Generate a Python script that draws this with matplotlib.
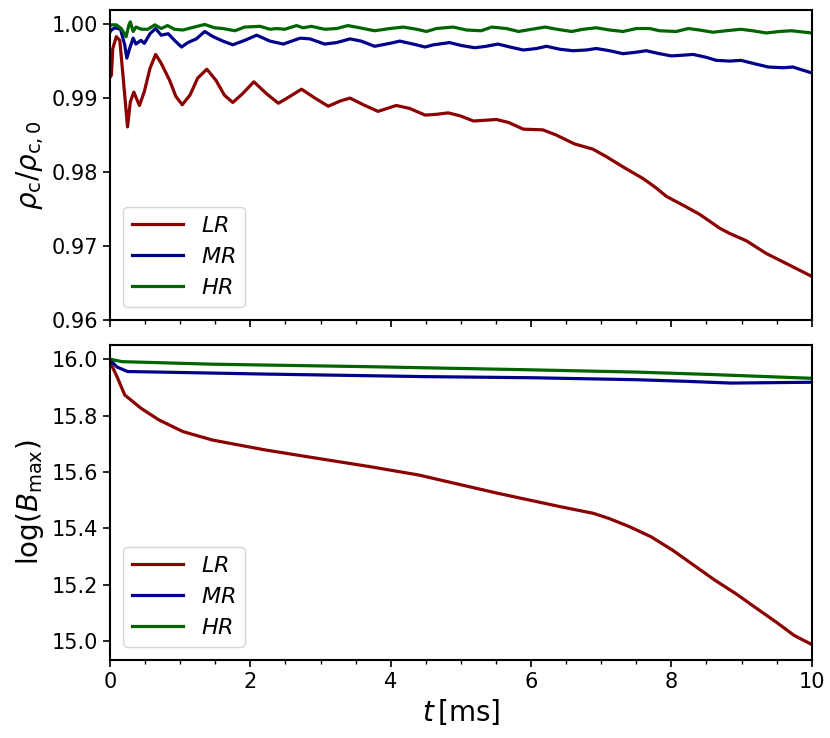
import matplotlib
matplotlib.use('Agg')
import matplotlib.pyplot as plt
from matplotlib.ticker import MultipleLocator

# central density rho_c / rho_c,0
t_rho_lr = [0.0, 0.02, 0.04, 0.09, 0.14, 0.185, 0.25, 0.29, 0.34, 0.42, 0.49, 0.57, 0.65, 0.73,
            0.85, 0.94, 1.03, 1.14, 1.25, 1.38, 1.51, 1.63, 1.75, 1.89, 2.05, 2.23, 2.40, 2.56,
            2.73, 2.92, 3.11, 3.28, 3.42, 3.61, 3.82, 4.08, 4.27, 4.49, 4.65, 4.82, 4.99, 5.18,
            5.51, 5.68, 5.89, 6.17, 6.36, 6.62, 6.88, 7.07, 7.31, 7.60, 7.79, 7.93, 8.17, 8.40,
            8.69, 8.83, 9.07, 9.35, 9.54, 10.0]
rho_lr = [0.9928, 0.9931, 0.9967, 0.9983, 0.9978, 0.9931, 0.9861, 0.9895, 0.9908, 0.9890, 0.9909,
          0.9940, 0.9959, 0.9947, 0.9924, 0.9902, 0.9891, 0.9904, 0.9927, 0.9939, 0.9924, 0.9904,
          0.9894, 0.9906, 0.9922, 0.9906, 0.9893, 0.9902, 0.9912, 0.9900, 0.9889, 0.9896, 0.9900,
          0.9891, 0.9882, 0.9890, 0.9886, 0.9877, 0.9878, 0.9880, 0.9876, 0.9869, 0.9871, 0.9867,
          0.9858, 0.9857, 0.9850, 0.9838, 0.9831, 0.9821, 0.9807, 0.9791, 0.9778, 0.9767, 0.9755,
          0.9743, 0.9724, 0.9717, 0.9707, 0.9690, 0.9681, 0.9659]

t_rho_mr = [0.0, 0.02, 0.07, 0.15, 0.21, 0.24, 0.28, 0.33, 0.37, 0.44, 0.49, 0.57, 0.65, 0.73,
            0.83, 0.92, 1.02, 1.11, 1.23, 1.35, 1.47, 1.61, 1.75, 1.92, 2.09, 2.28, 2.47, 2.71,
            2.85, 3.06, 3.23, 3.42, 3.58, 3.77, 3.99, 4.13, 4.32, 4.49, 4.61, 4.84, 5.01, 5.20,
            5.36, 5.53, 5.70, 5.89, 6.08, 6.22, 6.41, 6.60, 6.79, 6.93, 7.12, 7.31, 7.50, 7.64,
            7.83, 8.00, 8.17, 8.31, 8.50, 8.64, 8.83, 8.99, 9.16, 9.38, 9.59, 9.73, 10.0]
rho_mr = [0.9989, 0.9992, 0.9995, 0.9993, 0.9972, 0.9954, 0.9967, 0.9981, 0.9973, 0.9978, 0.9974,
          0.9987, 0.9994, 0.9985, 0.9987, 0.9978, 0.9969, 0.9975, 0.9980, 0.9990, 0.9983, 0.9977,
          0.9972, 0.9978, 0.9985, 0.9977, 0.9973, 0.9981, 0.9980, 0.9973, 0.9975, 0.9980, 0.9977,
          0.9970, 0.9974, 0.9977, 0.9973, 0.9969, 0.9972, 0.9975, 0.9971, 0.9968, 0.9970, 0.9973,
          0.9969, 0.9965, 0.9967, 0.9970, 0.9966, 0.9964, 0.9965, 0.9967, 0.9964, 0.9960, 0.9962,
          0.9964, 0.9960, 0.9957, 0.9958, 0.9959, 0.9955, 0.9951, 0.9950, 0.9951, 0.9947, 0.9942,
          0.9941, 0.9942, 0.9934]

t_rho_hr = [0.0, 0.02, 0.09, 0.16, 0.23, 0.27, 0.29, 0.33, 0.37, 0.45, 0.54, 0.64, 0.73, 0.82,
            0.92, 1.04, 1.16, 1.35, 1.49, 1.61, 1.78, 1.92, 2.14, 2.28, 2.37, 2.49, 2.66, 2.75,
            2.87, 3.06, 3.23, 3.39, 3.56, 3.77, 3.99, 4.18, 4.37, 4.51, 4.65, 4.89, 5.08, 5.29,
            5.44, 5.65, 5.82, 6.01, 6.20, 6.37, 6.58, 6.74, 6.93, 7.12, 7.31, 7.50, 7.69, 7.83,
            8.07, 8.24, 8.40, 8.59, 8.78, 8.99, 9.16, 9.35, 9.54, 9.71, 10.0]
rho_hr = [0.9997, 0.9999, 0.9999, 0.9994, 0.9983, 0.9999, 1.0003, 0.9990, 0.9996, 0.9993, 0.9993,
          0.9999, 0.9994, 0.9998, 0.9993, 0.9992, 0.9995, 0.99995, 0.9995, 0.9994, 0.9991, 0.9996,
          0.9997, 0.9993, 0.9994, 0.9993, 0.9998, 0.9995, 0.9997, 0.9993, 0.9994, 0.9998, 0.9995,
          0.9991, 0.9994, 0.9996, 0.9993, 0.9990, 0.9994, 0.9996, 0.9992, 0.9991, 0.9996, 0.9994,
          0.9990, 0.9993, 0.9996, 0.9993, 0.9990, 0.9993, 0.9995, 0.9992, 0.9990, 0.9994, 0.9994,
          0.9991, 0.9990, 0.9994, 0.9992, 0.9989, 0.9991, 0.9993, 0.9991, 0.9988, 0.9990, 0.9991,
          0.9988]

# maximum magnetic field log(B_max)
t_b_lr = [0.0, 0.1, 0.21, 0.44, 0.70, 1.04, 1.46, 1.76, 2.21, 2.96, 3.72, 4.40, 4.92, 5.53, 5.98,
          6.43, 6.89, 7.11, 7.41, 7.71, 8.02, 8.32, 8.62, 8.92, 9.22, 9.49, 9.75, 10.0]
b_lr = [15.99, 15.938, 15.873, 15.826, 15.784, 15.743, 15.713, 15.699, 15.678, 15.648, 15.618,
        15.589, 15.559, 15.524, 15.500, 15.476, 15.453, 15.435, 15.405, 15.370, 15.322, 15.269,
        15.216, 15.168, 15.115, 15.068, 15.020, 14.988]

t_b_mr = [0.0, 0.1, 0.25, 0.7, 2.2, 4.47, 6.0, 7.5, 8.24, 8.85, 10.0]
b_mr = [15.998, 15.972, 15.956, 15.954, 15.947, 15.938, 15.934, 15.927, 15.921, 15.915, 15.918]

t_b_hr = [0.0, 0.17, 1.46, 3.72, 6.0, 7.5, 8.5, 10.0]
b_hr = [16.0, 15.991, 15.982, 15.973, 15.962, 15.954, 15.946, 15.932]

labels = [r'$LR$', r'$MR$', r'$HR$']
colors = ['darkred', 'darkblue', 'darkgreen']

fig = plt.figure(figsize=(8.3, 7.38), dpi=100)
ax1 = fig.add_axes([0.1325, 0.5664, 0.8455, 0.42])
ax2 = fig.add_axes([0.1325, 0.1057, 0.8455, 0.4268])

for t, y, lab, c in zip([t_rho_lr, t_rho_mr, t_rho_hr], [rho_lr, rho_mr, rho_hr], labels, colors):
    ax1.plot(t, y, color=c, lw=2.3, label=lab)
for t, y, lab, c in zip([t_b_lr, t_b_mr, t_b_hr], [b_lr, b_mr, b_hr], labels, colors):
    ax2.plot(t, y, color=c, lw=2.3, label=lab)

ax1.set_ylim(0.96, 1.0019)
ax1.set_yticks([0.96, 0.97, 0.98, 0.99, 1.00])
ax2.set_ylim(14.933, 16.05)
ax2.set_yticks([15.0, 15.2, 15.4, 15.6, 15.8, 16.0])

for ax in (ax1, ax2):
    ax.set_xlim(0, 10)
    ax.xaxis.set_major_locator(MultipleLocator(2))
    ax.xaxis.set_minor_locator(MultipleLocator(0.5))
    ax.tick_params(axis='both', which='major', labelsize=15, length=5, width=1.2)
    ax.tick_params(axis='x', which='minor', length=3, width=1)
    for s in ax.spines.values():
        s.set_linewidth(1.5)
    ax.legend(loc='lower left', fontsize=16, handlelength=2.3, borderaxespad=0.6)

ax1.tick_params(axis='x', labelbottom=False)
ax1.set_ylabel(r'$\rho_{\rm c}/\rho_{\rm c,0}$', fontsize=20)
ax2.set_ylabel(r'$\log(B_{\rm max})$', fontsize=20)
ax2.set_xlabel(r'$t\,[\rm ms]$', fontsize=20)
fig.align_ylabels([ax1, ax2])

fig.savefig('out.png', dpi=100)
